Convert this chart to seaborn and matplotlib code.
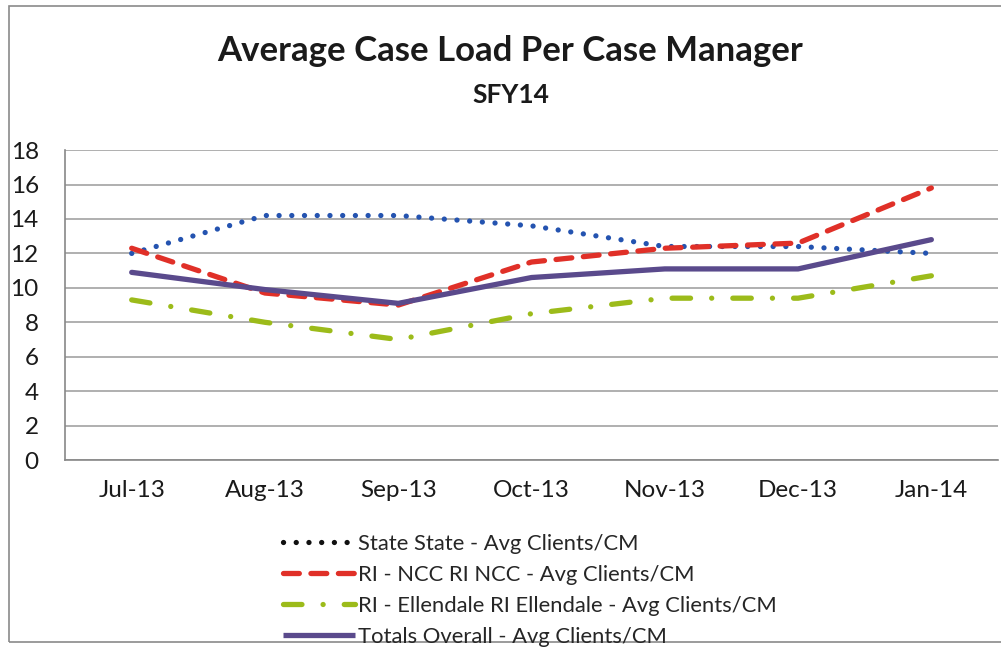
import numpy as np
import pandas as pd
import seaborn as sns
import matplotlib.pyplot as plt
from matplotlib.lines import Line2D
from matplotlib.patches import Rectangle

# Data
months = ["Jul-13", "Aug-13", "Sep-13", "Oct-13", "Nov-13", "Dec-13", "Jan-14"]
state = [12.0, 14.2, 14.2, 13.6, 12.4, 12.4, 12.0]
ncc = [12.3, 9.7, 9.0, 11.5, 12.3, 12.6, 15.8]
ellendale = [9.3, 8.0, 7.0, 8.5, 9.4, 9.4, 10.7]
totals = [10.9, 9.9, 9.1, 10.6, 11.1, 11.1, 12.8]

series_names = [
    "State State - Avg Clients/CM",
    "RI - NCC RI NCC - Avg Clients/CM",
    "RI - Ellendale RI Ellendale - Avg Clients/CM",
    "Totals Overall - Avg Clients/CM",
]
colors = ["#2453b0", "#e03028", "#9cbb1a", "#5a4a8c"]
dash_styles = [(0.01, 2.4), (3, 2.2), (3.5, 4, 0.01, 4), ""]

df = pd.DataFrame({
    "Month": months * 4,
    "Value": state + ncc + ellendale + totals,
    "Series": np.repeat(series_names, len(months)),
})

sns.set_style("white")
plt.rcParams["font.family"] = ["Lato", "DejaVu Sans"]

fig = plt.figure(figsize=(10.01, 6.48), dpi=100)
ax = fig.add_axes([0.065, 0.29, 0.932, 0.4784])

sns.lineplot(
    data=df, x="Month", y="Value", hue="Series", style="Series",
    palette=dict(zip(series_names, colors)),
    dashes=dict(zip(series_names, dash_styles)),
    linewidth=3.8, sort=False, legend=False, ax=ax,
)
for line in ax.get_lines():
    line.set_dash_capstyle("round")
    line.set_solid_capstyle("round")
    line.set_solid_joinstyle("round")

ax.set_xlim(-0.5, 6.5)
ax.set_ylim(0, 18)
ax.set_yticks(range(0, 19, 2))
ax.set_xticks(np.arange(-0.5, 7, 1))
ax.set_xticklabels([])
ax.set_xticks(range(len(months)), minor=True)
ax.set_xticklabels(months, minor=True, fontsize=17.5, color="#1a1a1a")
ax.tick_params(axis="x", which="major", direction="out", length=6, color="#888888", width=1.2)
ax.tick_params(axis="x", which="minor", length=0, pad=14)
ax.tick_params(axis="y", direction="out", length=6, color="#888888", width=1.2,
               labelsize=17.5, labelcolor="#1a1a1a", pad=13)
ax.set_xlabel("")
ax.set_ylabel("")
ax.grid(axis="y", color="#9a9a9a", linewidth=1.1)
ax.set_axisbelow(True)
for side in ["top", "right"]:
    ax.spines[side].set_visible(False)
for side in ["left", "bottom"]:
    ax.spines[side].set_color("#888888")
    ax.spines[side].set_linewidth(1.2)

# Titles
fig.text(0.51, 0.922, "Average Case Load Per Case Manager", ha="center", va="center",
         fontsize=25, fontweight="bold", color="#1a1a1a")
fig.text(0.51, 0.853, "SFY14", ha="center", va="center",
         fontsize=19, fontweight="bold", color="#1a1a1a")

# Legend
legend_colors = ["#111111", "#e03028", "#9cbb1a", "#5a4a8c"]
handles = []
for c, d in zip(legend_colors, dash_styles):
    h = Line2D([], [], color=c, linewidth=3.8, dash_capstyle="round", solid_capstyle="butt")
    if d:
        h.set_dashes(d)
    handles.append(h)
fig.legend(handles, series_names, loc="upper left", bbox_to_anchor=(0.274, 0.19),
           frameon=False, fontsize=15.8, handlelength=3.3, handletextpad=0.12,
           labelspacing=0.5, borderaxespad=0)

# Outer chart border
fig.patches.append(Rectangle((9 / 1001, 6 / 648), 1.2, 1 - 12 / 648, transform=fig.transFigure,
                             fill=False, edgecolor="#8a8a8a", linewidth=1.2))

fig.savefig("out.png", dpi=100)
